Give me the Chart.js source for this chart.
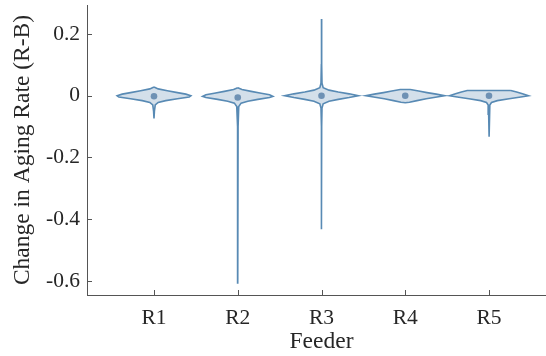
<!DOCTYPE html>
<html>
<head>
<meta charset="utf-8">
<script src="https://cdn.jsdelivr.net/npm/chart.js@4"></script>
<style>
  html, body { margin: 0; padding: 0; background: #fff; }
  #wrap { width: 546px; height: 356px; overflow: hidden; }
  #box { width: 560px; height: 356px; }
</style>
</head>
<body>
<div id="wrap"><div id="box"><canvas id="violin-chart"></canvas></div></div>
<script>
const feeders = ['R1', 'R2', 'R3', 'R4', 'R5'];
const yTicks = [-0.6, -0.4, -0.2, 0, 0.2];

// medians per feeder
const medians = [-0.002, -0.006, 0, 0, 0];

// violin outlines: levels (y) and half widths (in category units)
const r1Levels = [0.028, 0.022, 0.016, 0.010, 0.005, 0.0, -0.004, -0.010, -0.016, -0.022, -0.030, -0.050, -0.074];
const r1Widths = [0, 0.05, 0.16, 0.28, 0.38, 0.44, 0.42, 0.28, 0.14, 0.05, 0.015, 0.005, 0];

const r2Levels = [0.026, 0.020, 0.014, 0.008, 0.003, -0.002, -0.006, -0.012, -0.018, -0.024, -0.035, -0.100, -0.606];
const r2Widths = [0, 0.05, 0.16, 0.28, 0.38, 0.42, 0.38, 0.24, 0.12, 0.04, 0.012, 0.004, 0];

const r3Levels = [0.248, 0.100, 0.040, 0.026, 0.018, 0.012, 0.006, 0.0, -0.006, -0.012, -0.018, -0.026, -0.040, -0.100, -0.432];
const r3Widths = [0, 0.002, 0.006, 0.02, 0.09, 0.20, 0.33, 0.44, 0.33, 0.20, 0.09, 0.02, 0.006, 0.002, 0];

const r4Levels = [0.020, 0.015, 0.010, 0.005, 0.0, -0.005, -0.010, -0.016, -0.021, -0.023];
const r4Widths = [0.06, 0.16, 0.26, 0.37, 0.47, 0.36, 0.25, 0.14, 0.05, 0];

const r5Levels = [0.017, 0.012, 0.006, 0.0, -0.004, -0.010, -0.016, -0.022, -0.030, -0.060, -0.133];
const r5Widths = [0.26, 0.33, 0.40, 0.47, 0.38, 0.24, 0.10, 0.03, 0.01, 0.004, 0];

const violins = [
    [r1Levels, r1Widths],
    [r2Levels, r2Widths],
    [r3Levels, r3Widths],
    [r4Levels, r4Widths],
    [r5Levels, r5Widths]
];

const lineColor = 'rgb(88, 138, 180)';
const fillColor = 'rgb(211, 223, 234)';
const dotColor = 'rgb(110, 145, 180)';
const textColor = '#262626';
const axisColor = '#555555';
const fontFamily = '"Times New Roman", "Liberation Serif", "DejaVu Serif", serif';

// closed outline: right side top->bottom, left side bottom->top
function outline(pos, levels, widths) {
    const pts = [];
    for (let i = 0; i < levels.length; i++) pts.push({ x: pos + widths[i], y: levels[i] });
    for (let i = levels.length - 1; i >= 0; i--) pts.push({ x: pos - widths[i], y: levels[i] });
    pts.push(pts[0]);
    return pts;
}

const datasets = violins.map(([levels, widths], i) => ({
    type: 'scatter',
    data: outline(i + 1, levels, widths),
    showLine: true,
    fill: 'shape',
    backgroundColor: fillColor,
    borderColor: lineColor,
    borderWidth: 1.6,
    pointRadius: 0,
    tension: 0,
    order: 2
}));

// median markers on top of the violins
datasets.push({
    type: 'scatter',
    data: medians.map((m, i) => ({ x: i + 1, y: m })),
    pointRadius: 3.3,
    pointBackgroundColor: dotColor,
    pointBorderColor: dotColor,
    pointBorderWidth: 0,
    order: 0
});

// tick marks drawn inside the axes
const inwardTicks = {
    id: 'inwardTicks',
    afterDraw(chart) {
        const { ctx, chartArea, scales } = chart;
        ctx.save();
        ctx.strokeStyle = axisColor;
        ctx.lineWidth = 1;
        ctx.beginPath();
        yTicks.forEach(v => {
            const py = Math.round(scales.y.getPixelForValue(v)) + 0.5;
            ctx.moveTo(chartArea.left, py);
            ctx.lineTo(chartArea.left + 5, py);
        });
        feeders.forEach((f, i) => {
            const px = Math.round(scales.x.getPixelForValue(i + 1)) + 0.5;
            ctx.moveTo(px, chartArea.bottom);
            ctx.lineTo(px, chartArea.bottom - 5);
        });
        ctx.stroke();
        ctx.restore();
    }
};

new Chart(document.getElementById('violin-chart'), {
    type: 'scatter',
    data: { datasets },
    options: {
        responsive: true,
        maintainAspectRatio: false,
        animation: false,
        layout: { padding: { top: 5, right: 3, left: 0, bottom: 0 } },
        plugins: {
            legend: { display: false },
            tooltip: { enabled: false }
        },
        scales: {
            x: {
                type: 'linear',
                min: 0.2,
                max: 5.8,
                afterBuildTicks: s => { s.ticks = feeders.map((f, i) => ({ value: i + 1 })); },
                afterFit: s => {
                    s.height = 61;
                    s.paddingLeft = 0;
                    s.paddingRight = 0;
                },
                grid: { display: false, drawTicks: false },
                border: { display: true, color: axisColor, width: 1 },
                ticks: {
                    padding: 10,
                    color: textColor,
                    font: { family: fontFamily, size: 21.5 },
                    callback: v => feeders[v - 1]
                },
                title: {
                    display: true,
                    text: 'Feeder',
                    color: textColor,
                    font: { family: fontFamily, size: 23.5 },
                    padding: { top: 0, bottom: 0 }
                }
            },
            y: {
                type: 'linear',
                min: -0.645,
                max: 0.2935,
                afterBuildTicks: s => { s.ticks = yTicks.map(v => ({ value: v })); },
                afterFit: s => {
                    s.width = 87;
                    s.paddingTop = 0;
                    s.paddingBottom = 0;
                },
                grid: { display: false, drawTicks: false },
                border: { display: true, color: axisColor, width: 1 },
                ticks: {
                    padding: 7,
                    color: textColor,
                    font: { family: fontFamily, size: 21.5 },
                    callback: v => (v === 0 ? '0' : v.toFixed(1))
                },
                title: {
                    display: true,
                    text: 'Change in Aging Rate (R-B)',
                    color: textColor,
                    font: { family: fontFamily, size: 23.5 },
                    padding: { top: 9, bottom: 0 }
                }
            }
        }
    },
    plugins: [inwardTicks]
});
</script>
</body>
</html>
